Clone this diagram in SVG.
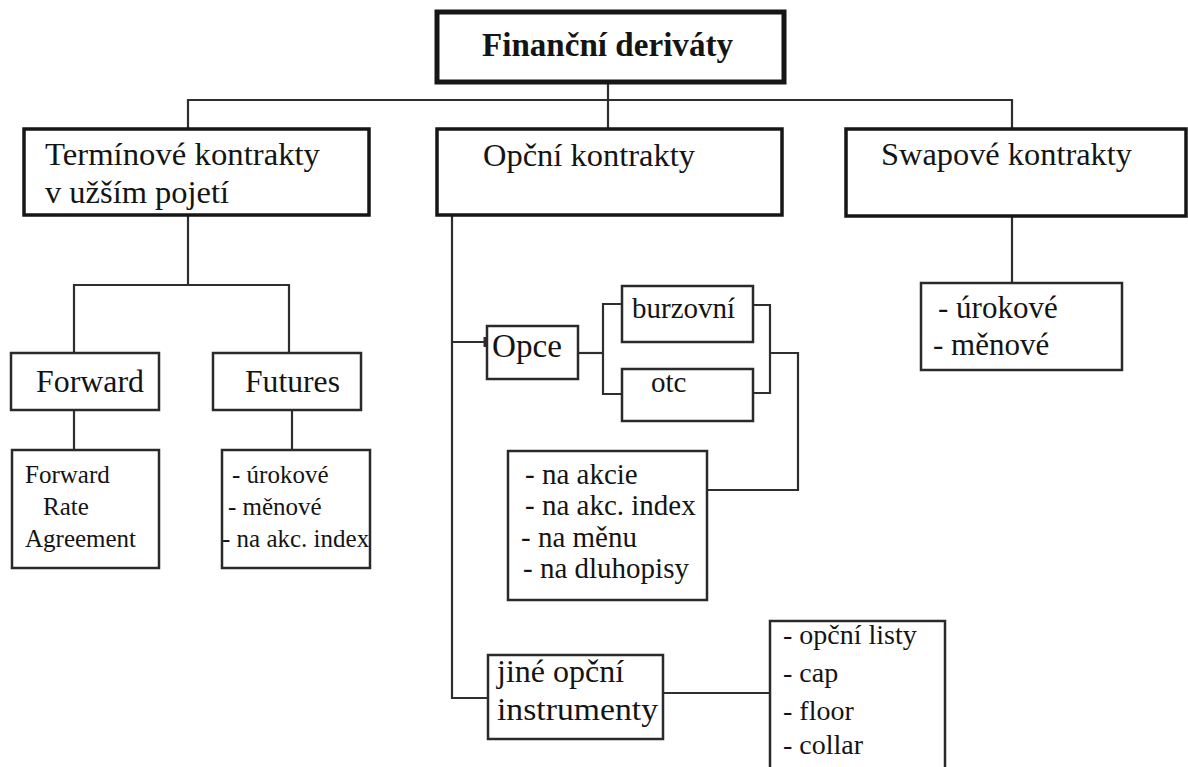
<svg xmlns="http://www.w3.org/2000/svg" width="1188" height="767" viewBox="0 0 1188 767">
  <style>
    .box { fill: #ffffff; stroke: #161616; }
    .root { stroke-width: 5; }
    .main { stroke-width: 3.5; }
    .sub { stroke-width: 2.5; stroke: #2a2a2a; }
    .conn path { fill: none; stroke: #2e2e2e; stroke-width: 2.2; }
  </style>

  <rect x="0" y="0" width="1188" height="767" fill="#ffffff"/>

  <!-- connectors -->
  <g id="connectors" class="conn">
    <path d="M608 82 V129"/>
    <path d="M188 129 V100 H1012 V129"/>
    <path d="M188 215 V285"/>
    <path d="M74 353 V285 H289 V353"/>
    <path d="M74 410 V450"/>
    <path d="M292 410 V450"/>
    <path d="M1012 216 V283"/>
    <path d="M452 215 V698 H488"/>
    <path d="M452 342 H487"/>
    <path d="M485 337 V347" style="stroke-width:3"/>
    <path d="M578 353 H603"/>
    <path d="M622 304 H603 V394 H622"/>
    <path d="M753 305 H770 V393 H753"/>
    <path d="M770 353 H798 V490 H707"/>
    <path d="M663 693 H770"/>
  </g>

  <!-- root -->
  <g id="financni-derivaty">
    <rect class="box root" x="437" y="12" width="347" height="70"/>
    <text x="482" y="56" font-family="Liberation Serif" font-size="34" font-weight="bold" fill="#141414" textLength="251" lengthAdjust="spacingAndGlyphs">Finanční deriváty</text>
  </g>

  <!-- level 2 -->
  <g id="terminove-kontrakty">
    <rect class="box main" x="24" y="129" width="345" height="86"/>
    <text x="45" y="165" font-family="Liberation Serif" font-size="31" fill="#141414" textLength="275" lengthAdjust="spacingAndGlyphs">Termínové kontrakty</text>
    <text x="45" y="203" font-family="Liberation Serif" font-size="31" fill="#141414" textLength="184" lengthAdjust="spacingAndGlyphs">v užším pojetí</text>
  </g>
  <g id="opcni-kontrakty">
    <rect class="box main" x="437" y="129" width="345" height="86"/>
    <text x="483" y="166" font-family="Liberation Serif" font-size="31" fill="#141414" textLength="212" lengthAdjust="spacingAndGlyphs">Opční kontrakty</text>
  </g>
  <g id="swapove-kontrakty">
    <rect class="box main" x="846" y="129" width="340" height="87"/>
    <text x="881" y="165" font-family="Liberation Serif" font-size="31" fill="#141414" textLength="251" lengthAdjust="spacingAndGlyphs">Swapové kontrakty</text>
  </g>

  <!-- forward / futures branch -->
  <g id="forward">
    <rect class="box sub" x="11" y="353" width="148" height="57"/>
    <text x="36" y="392" font-family="Liberation Serif" font-size="31" fill="#141414" textLength="108" lengthAdjust="spacingAndGlyphs">Forward</text>
  </g>
  <g id="futures">
    <rect class="box sub" x="213" y="353" width="148" height="57"/>
    <text x="245" y="392" font-family="Liberation Serif" font-size="31" fill="#141414" textLength="95" lengthAdjust="spacingAndGlyphs">Futures</text>
  </g>
  <g id="fra">
    <rect class="box sub" x="12" y="450" width="147" height="118"/>
    <text x="25" y="483" font-family="Liberation Serif" font-size="25" fill="#141414">Forward</text>
    <text x="43" y="515" font-family="Liberation Serif" font-size="25" fill="#141414">Rate</text>
    <text x="25" y="547" font-family="Liberation Serif" font-size="25" fill="#141414">Agreement</text>
  </g>
  <g id="futures-druhy">
    <rect class="box sub" x="222" y="450" width="148" height="118"/>
    <text x="232" y="483" font-family="Liberation Serif" font-size="25" fill="#141414">- úrokové</text>
    <text x="228" y="515" font-family="Liberation Serif" font-size="25" fill="#141414">- měnové</text>
    <text x="222" y="547" font-family="Liberation Serif" font-size="25" fill="#141414">- na akc. index</text>
  </g>

  <!-- options branch -->
  <g id="opce">
    <rect class="box sub" x="487" y="326" width="91" height="53"/>
    <text x="492" y="357" font-family="Liberation Serif" font-size="33" fill="#141414" textLength="70" lengthAdjust="spacingAndGlyphs">Opce</text>
  </g>
  <g id="burzovni">
    <rect class="box sub" x="622" y="286" width="131" height="56"/>
    <text x="632" y="318" font-family="Liberation Serif" font-size="29" fill="#141414">burzovní</text>
  </g>
  <g id="otc">
    <rect class="box sub" x="622" y="369" width="131" height="52"/>
    <text x="651" y="392" font-family="Liberation Serif" font-size="29" fill="#141414">otc</text>
  </g>
  <g id="podklady">
    <rect class="box sub" x="508" y="451" width="199" height="149"/>
    <text x="525" y="484" font-family="Liberation Serif" font-size="29" fill="#141414">- na akcie</text>
    <text x="525" y="515" font-family="Liberation Serif" font-size="29" fill="#141414">- na akc. index</text>
    <text x="521" y="547" font-family="Liberation Serif" font-size="29" fill="#141414">- na měnu</text>
    <text x="523" y="578" font-family="Liberation Serif" font-size="29" fill="#141414">- na dluhopisy</text>
  </g>
  <g id="jine-opcni-instrumenty">
    <rect class="box sub" x="488" y="655" width="175" height="84"/>
    <text x="497" y="682" font-family="Liberation Serif" font-size="32" fill="#141414">jiné opční</text>
    <text x="497" y="720" font-family="Liberation Serif" font-size="32" fill="#141414" textLength="161" lengthAdjust="spacingAndGlyphs">instrumenty</text>
  </g>
  <g id="jine-druhy">
    <rect class="box sub" x="770" y="621" width="175" height="160"/>
    <text x="783" y="644" font-family="Liberation Serif" font-size="28" fill="#141414">- opční listy</text>
    <text x="783" y="682" font-family="Liberation Serif" font-size="28" fill="#141414">- cap</text>
    <text x="783" y="720" font-family="Liberation Serif" font-size="28" fill="#141414">- floor</text>
    <text x="783" y="754" font-family="Liberation Serif" font-size="28" fill="#141414">- collar</text>
  </g>

  <!-- swap branch -->
  <g id="swap-druhy">
    <rect class="box sub" x="921" y="283" width="201" height="87"/>
    <text x="938" y="318" font-family="Liberation Serif" font-size="31" fill="#141414">- úrokové</text>
    <text x="933" y="355" font-family="Liberation Serif" font-size="31" fill="#141414">- měnové</text>
  </g>
</svg>
